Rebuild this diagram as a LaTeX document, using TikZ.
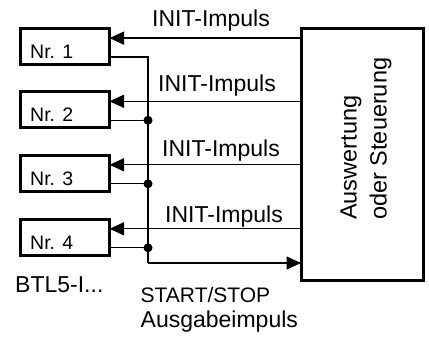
\documentclass[tikz,border=0pt]{standalone}
\usepackage{fontspec}
\setmainfont{Liberation Sans}
\usetikzlibrary{arrows.meta,calc}
\begin{document}
\begin{tikzpicture}[x=1pt,y=-1pt,
  sensor/.style={draw,line width=3pt,minimum width=89pt,minimum height=36pt,inner sep=0pt,outer sep=0pt,anchor=north west},
  ctrl/.style={draw,line width=3pt,minimum width=122pt,minimum height=252pt,inner sep=0pt,outer sep=0pt,anchor=north west},
  wire/.style={line width=1.3pt},
  tip/.style={-{Triangle[length=14.5pt,width=13pt]}},
  junction/.style={circle,fill,inner sep=0pt,minimum size=9pt},
  txt/.style={inner sep=0pt,anchor=base west},
  nrtxt/.style={txt,font=\fontsize{19.5}{22}\selectfont},
  lbl/.style={txt,font=\fontsize{23}{26}\selectfont}]
\useasboundingbox (0,0) rectangle (429,338);

% sensor boxes
\node[sensor] (n1) at (20.5,28.3) {};
\node[sensor] (n2) at (20.5,91.5) {};
\node[sensor] (n3) at (20.5,155) {};
\node[sensor] (n4) at (20.5,219) {};
\node[nrtxt] (t1) at ($(n1.north west)+(9.5,30.2)$) {Nr. 1};
\node[nrtxt] (t2) at ($(n2.north west)+(9.5,30.2)$) {Nr. 2};
\node[nrtxt] (t3) at ($(n3.north west)+(9.5,30.2)$) {Nr. 3};
\node[nrtxt] (t4) at ($(n4.north west)+(9.5,30.2)$) {Nr. 4};

% control unit
\node[ctrl] (ctl) at (301,28.7) {};
\node[txt,rotate=90,font=\fontsize{23.5}{28}\selectfont] (ctla) at (356.5,220) {Auswertung};
\node[txt,rotate=90,font=\fontsize{23.5}{28}\selectfont] (ctlb) at (386.5,220) {oder Steuerung};

% INIT pulses from the control unit to each sensor
\foreach \k in {1,2,3,4}{
  \coordinate (in\k) at ($(n\k.north east)+(0,9.8)$);
  \draw[wire,tip] (ctl.west |- in\k) -- (in\k);
}
\node[lbl] (i1) at (152,26) {INIT-Impuls};
\node[lbl] (i2) at (158,91) {INIT-Impuls};
\node[lbl] (i3) at (162,156.5) {INIT-Impuls};
\node[lbl] (i4) at (165,222) {INIT-Impuls};

% common START/STOP output bus
\foreach \k in {1,2,3,4}{
  \coordinate (out\k) at ($(n\k.north east)+(0,28.8)$);
}
\coordinate (busTop) at (148,0 |- out1);
\coordinate (busEnd) at (148,263);
\draw[wire] (out1) -- (busTop) -- (busEnd);
\draw[wire,tip] (busEnd) -- (ctl.west |- busEnd);
\foreach \k in {2,3,4}{
  \draw[wire] (out\k) -- (busTop |- out\k);
  \node[junction] (j\k) at (busTop |- out\k) {};
}

% captions
\node[lbl] (btl) at (15,292.7) {BTL5-I...};
\node[txt,font=\fontsize{21}{24}\selectfont] (ss) at (140.5,302.5) {START/STOP};
\node[txt,font=\fontsize{23}{26}\selectfont] (ag) at (140.5,327) {Ausgabeimpuls};
\end{tikzpicture}
\end{document}
